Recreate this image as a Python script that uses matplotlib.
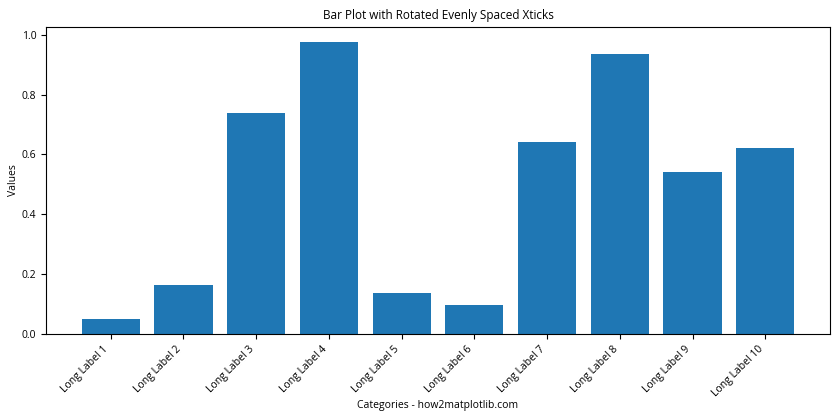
import matplotlib
matplotlib.use('Agg')
import matplotlib.pyplot as plt

categories = ['Long Label 1', 'Long Label 2', 'Long Label 3', 'Long Label 4', 'Long Label 5',
              'Long Label 6', 'Long Label 7', 'Long Label 8', 'Long Label 9', 'Long Label 10']
values = [0.05, 0.163, 0.737, 0.977, 0.137, 0.097, 0.64, 0.937, 0.54, 0.62]

plt.rcParams['font.family'] = ['Open Sans', 'DejaVu Sans']

fig = plt.figure(figsize=(8.4, 4.2), dpi=100)
ax = fig.add_axes([46 / 840, 1 - 334 / 420, (830 - 46) / 840, (334 - 27) / 420])
x = list(range(len(categories)))
ax.bar(x, values, color='#1f77b4')
ax.set_xticks(x)
ax.set_xticklabels(categories, rotation=45, ha='right', fontsize=7.5)
ax.tick_params(axis='y', labelsize=7.5)
ax.set_title('Bar Plot with Rotated Evenly Spaced Xticks', fontsize=8.5)
ax.set_xlabel('Categories - how2matplotlib.com', fontsize=7.5, labelpad=1)
ax.set_ylabel('Values', fontsize=7.5, labelpad=2)

fig.savefig('out.png', dpi=100)
